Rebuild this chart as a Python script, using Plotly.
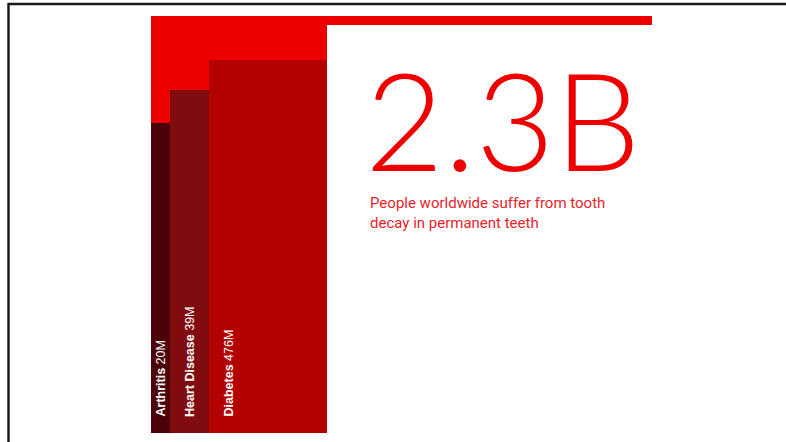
import plotly.graph_objects as go

# ---- data ----
categories = ["Arthritis", "Heart Disease", "Diabetes"]
value_labels = ["20M", "39M", "476M"]
bar_heights = [310, 343, 373]          # visual heights (design units)
bar_widths = [19, 39, 118]
total_label = "2.3B"
total_height = 417
subtitle_lines = ["People worldwide suffer from tooth", "decay in permanent teeth"]

colors = ["#4B0208", "#800C10", "#B30000"]
big_red = "#EE0000"

W, H = 786, 442
x0_px, x1_px = 151, 652
y_top_px, y_bot_px = 16, 433

fig = go.Figure()

total_width = sum(bar_widths)
# background total bar
fig.add_trace(go.Bar(x=[total_width / 2], y=[total_height], width=[total_width],
                     marker=dict(color=big_red, line=dict(width=0)),
                     hoverinfo="skip", showlegend=False))
# category bars
left = 0
for cat, h, w, c in zip(categories, bar_heights, bar_widths, colors):
    fig.add_trace(go.Bar(x=[left + w / 2], y=[h], width=[w],
                         marker=dict(color=c, line=dict(width=0)),
                         name=cat, hoverinfo="skip", showlegend=False))
    left += w

x_range = x1_px - x0_px
fig.add_shape(type="rect", xref="x", yref="y", x0=total_width - 0.5, x1=x_range,
              y0=total_height - 9, y1=total_height,
              fillcolor=big_red, line=dict(width=0), layer="below")

# rotated labels
left = 0
for cat, v, w in zip(categories, value_labels, bar_widths):
    cx = left + (w / 2 if w < 50 else 19)
    fig.add_annotation(x=cx, y=14, xref="x", yref="y", textangle=-90,
                       text=f"<b>{cat}</b> {v}", showarrow=False,
                       xanchor="center", yanchor="bottom",
                       font=dict(family="Liberation Sans, Arial", size=12.5, color="white"))
    left += w

# big number
fig.add_annotation(x=363 / W, y=1 - 35 / H, xref="paper", yref="paper",
                   text=total_label, showarrow=False, xanchor="left", yanchor="top",
                   height=148, valign="top",
                   font=dict(family="Lato", size=136, color="#EE0000", weight=300))
fig.add_annotation(x=368 / W, y=1 - 192 / H, xref="paper", yref="paper",
                   text="<br>".join(subtitle_lines), showarrow=False,
                   xanchor="left", yanchor="top", align="left",
                   font=dict(family="Roboto, Arial", size=15, color="#E8232B"))

# frame lines (cropped frame)
fig.add_shape(type="line", xref="paper", yref="paper", x0=8 / W, x1=1, y0=1 - 4 / H, y1=1 - 4 / H,
              line=dict(color="#1a1a1a", width=2.5))
fig.add_shape(type="line", xref="paper", yref="paper", x0=8.5 / W, x1=8.5 / W, y0=0, y1=1 - 3 / H,
              line=dict(color="#1a1a1a", width=2.5))

fig.update_layout(
    width=W, height=H, margin=dict(l=0, r=0, t=0, b=0),
    paper_bgcolor="white", plot_bgcolor="white",
    barmode="overlay", bargap=0,
    xaxis=dict(domain=[x0_px / W, x1_px / W], range=[0, x_range], visible=False, fixedrange=True),
    yaxis=dict(domain=[(H - y_bot_px) / H, (H - y_top_px) / H], range=[0, total_height],
               visible=False, fixedrange=True),
)

fig.write_html("out.html", config={"displayModeBar": False},
               post_script="document.body.style.margin='0';document.body.style.overflow='hidden';")
